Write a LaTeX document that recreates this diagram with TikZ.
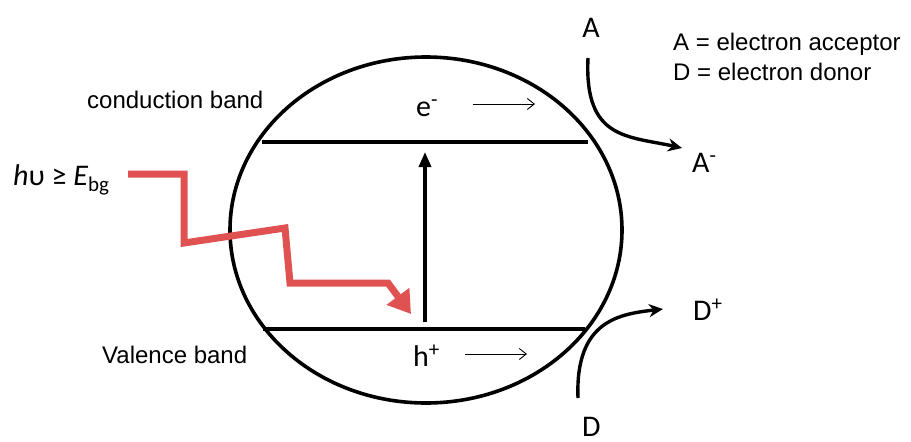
\documentclass[tikz,border=0pt]{standalone}
\usepackage{fontspec}
\setmainfont{Liberation Sans}
\newfontfamily\calibri{Carlito}
\usetikzlibrary{arrows.meta,shapes.geometric}
\definecolor{photonred}{RGB}{224,82,82}
\tikzset{
  labeltext/.style={font={\fontsize{24}{28}\selectfont}, inner sep=0pt},
  speciestext/.style={font={\calibri\fontsize{30}{34}\selectfont}, inner sep=0pt},
  bandline/.style={line width=4pt},
  flowarrow/.style={line width=3.4pt, -{Stealth[length=14pt,width=13pt]}},
  driftarrow/.style={line width=0.9pt, -{Straight Barb[length=7pt,width=11pt]}},
}

\begin{document}
\begin{tikzpicture}[x=1pt,y=-1pt]
\useasboundingbox (0,0) rectangle (911,442);
\node[draw, ellipse, line width=3.6pt, minimum width=392pt, minimum height=346pt, inner sep=0pt] (particle) at (426,230) {};
\coordinate (cbL) at (262,142);
\coordinate (cbR) at (588,142);
\coordinate (vbL) at (263,329);
\coordinate (vbR) at (585,329);
\draw[bandline] (cbL) -- (cbR);
\draw[bandline] (vbL) -- (vbR);
\coordinate (excFrom) at (425,322);
\coordinate (excTo) at (425,152);
\draw[line width=3.4pt, -{Triangle[length=15pt,width=12pt]}] (excFrom) -- (excTo);
\coordinate (ph0) at (128,174);
\coordinate (ph1) at (184,174);
\coordinate (ph2) at (184,243);
\coordinate (ph3) at (285,228);
\coordinate (ph4) at (290,283);
\coordinate (ph5) at (388,283);
\coordinate (ph6) at (411,314);
\draw[photonred, line width=7pt, -{Triangle[length=22pt,width=27pt]}] (ph0) -- (ph1) -- (ph2) -- (ph3) -- (ph4) -- (ph5) -- (ph6);
\node[speciestext, anchor=base west] (photon) at (13,185) {{\itshape h}υ ≥ {\itshape E}\textsubscript{bg}};
\node[labeltext, anchor=base west] (cbLabel) at (87,108) {conduction band};
\node[labeltext, anchor=base west] (vbLabel) at (102,363) {Valence band};
\node[speciestext, anchor=base west] (elec) at (416,116) {e\textsuperscript{-}};
\node[speciestext, anchor=base west] (hole) at (413,366) {h\textsuperscript{+}};
\coordinate (eFrom) at (473,104);
\coordinate (eTo) at (535,104);
\coordinate (hFrom) at (465,354);
\coordinate (hTo) at (527,354);
\draw[driftarrow] (eFrom) -- (eTo);
\draw[driftarrow] (hFrom) -- (hTo);
\node[speciestext, anchor=base] (accA) at (591,37) {A};
\node[speciestext, anchor=base west] (accAm) at (692,172) {A\textsuperscript{-}};
\node[speciestext, anchor=base west] (donDp) at (693,320) {D\textsuperscript{+}};
\node[speciestext, anchor=base west] (donD) at (582,436) {D};
\node[labeltext, anchor=base west] (legendA) at (673,50) {A = electron acceptor};
\node[labeltext, anchor=base west] (legendD) at (673,80) {D = electron donor};
\coordinate (aStart) at (588,58);
\coordinate (aEnd) at (682,148);
\coordinate (dStart) at (578,398);
\coordinate (dEnd) at (663,309);
\draw[flowarrow] (aStart) .. controls (584,140) and (628,136) .. (aEnd);
\draw[flowarrow] (dStart) .. controls (575,320) and (620,314) .. (dEnd);
\end{tikzpicture}
\end{document}
